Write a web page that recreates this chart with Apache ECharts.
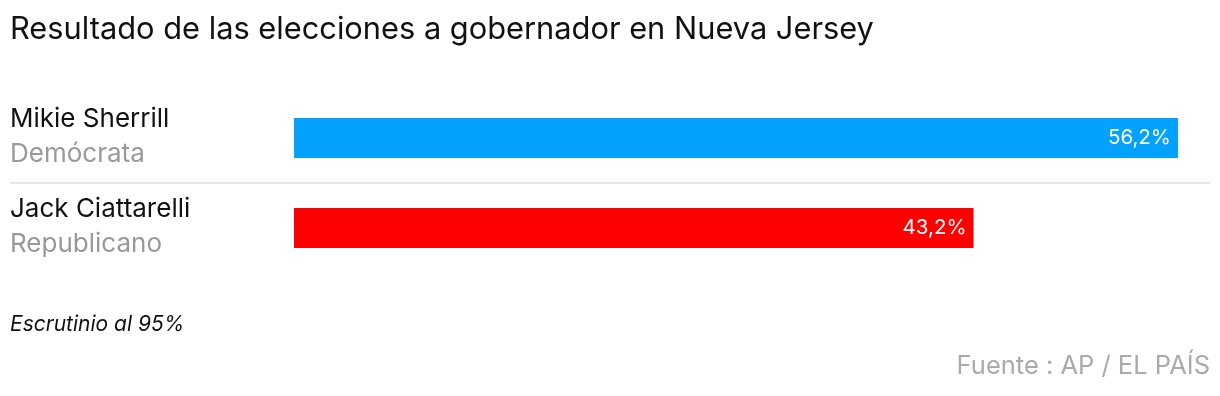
<!DOCTYPE html>
<html><head><meta charset="utf-8">
<script src="https://cdn.jsdelivr.net/npm/echarts@6/dist/echarts.min.js"></script>
<style>html,body{margin:0;padding:0;background:#fff}#c{width:1220px;height:396px}</style>
</head><body><div id="c"></div>
<script>
const candidates = ['Mikie Sherrill', 'Jack Ciattarelli'];
const parties = ['Demócrata', 'Republicano'];
const values = [56.2, 43.2];
const colors = ['#03a2fe', '#fe0000'];
const titleText = 'Resultado de las elecciones a gobernador en Nueva Jersey';
const noteText = 'Escrutinio al 95%';
const sourceText = 'Fuente : AP / EL PAÍS';

const FONT = 'Inter, Roboto, sans-serif';
const chart = echarts.init(document.getElementById('c'), null, {renderer: 'canvas'});
chart.setOption({
  animation: false,
  textStyle: {fontFamily: FONT},
  title: {
    text: titleText, left: 10 - 5, top: 9,
    textStyle: {fontFamily: FONT, fontSize: 30.8, fontWeight: 'normal', color: '#111'}
  },
  grid: {left: 294, right: 42, top: 93, height: 180, containLabel: false},
  xAxis: {type: 'value', min: 0, max: 'dataMax', show: false},
  yAxis: {
    type: 'category', inverse: true, data: candidates.map((c, i) => c + '\n' + parties[i]),
    axisLine: {show: false}, axisTick: {show: false}, splitLine: {show: false},
    axisLabel: {
      align: 'left', margin: 284,
      formatter: (v) => {
        const [n, p] = v.split('\n');
        return '{n|' + n + '}\n{p|' + p + '}';
      },
      rich: {
        n: {fontFamily: FONT, fontSize: 26, color: '#111', lineHeight: 33, padding: [0, 0, 4, 0]},
        p: {fontFamily: FONT, fontSize: 26, color: '#999', lineHeight: 33}
      }
    }
  },
  series: [{
    type: 'bar', barWidth: 40,
    data: values.map((v, i) => ({value: v, itemStyle: {color: colors[i]}})),
    label: {
      show: true, position: 'insideRight', distance: 7,
      formatter: (p) => p.value.toFixed(1).replace('.', ',') + '%',
      color: '#fff', fontFamily: FONT, fontSize: 20.5
    }
  }],
  graphic: [
    {type: 'line', shape: {x1: 10, y1: 183, x2: 1210, y2: 183}, style: {stroke: '#e6e6e6', lineWidth: 2}},
    {type: 'text', left: 10, top: 314, style: {text: noteText, font: 'italic 21px ' + FONT, fill: '#111'}},
    {type: 'text', right: 10, top: 353, style: {text: sourceText, font: '25.5px ' + FONT, fill: '#aaa'}}
  ]
});
</script></body></html>
